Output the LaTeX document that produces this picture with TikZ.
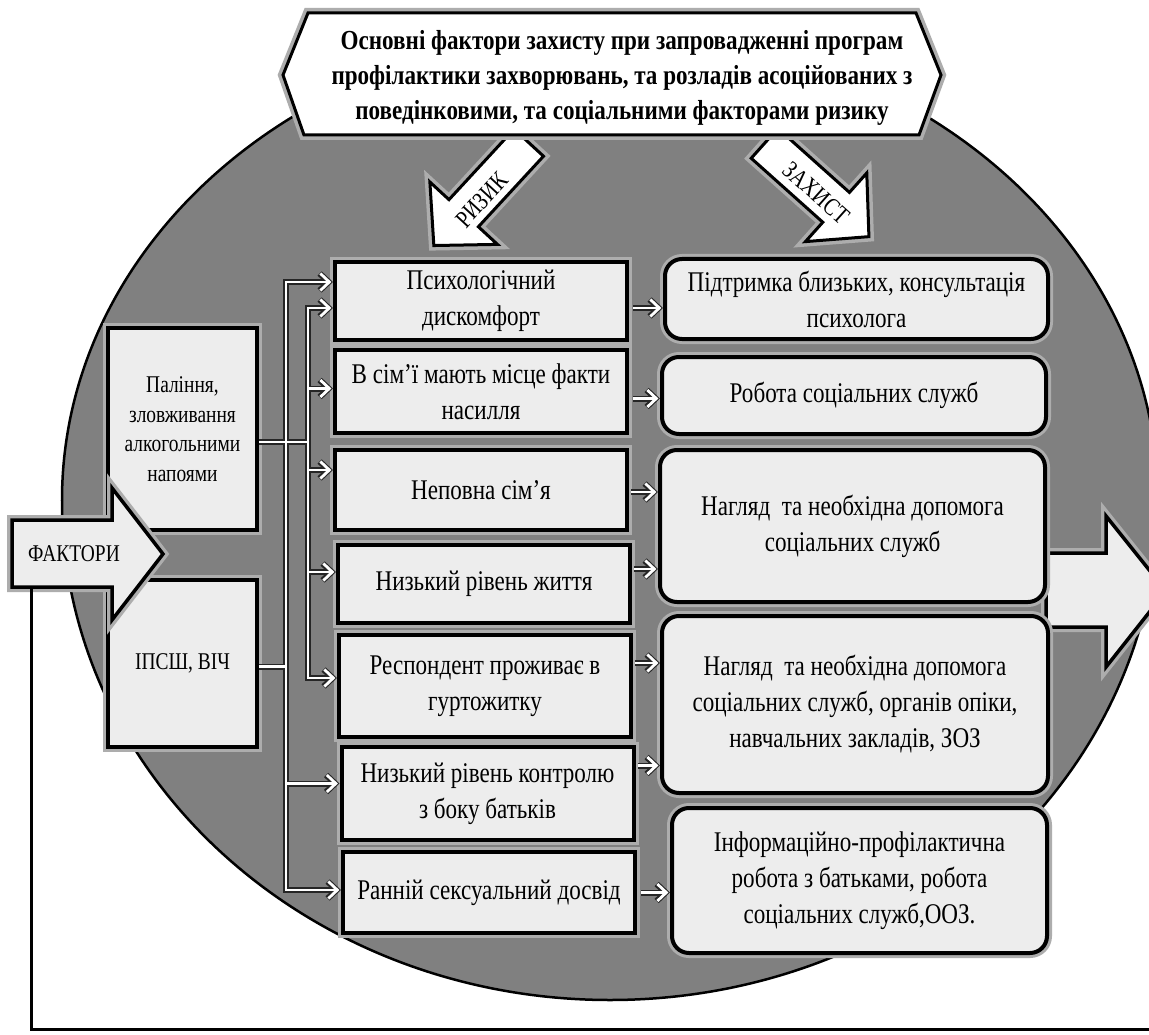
\documentclass[tikz,border=0pt]{standalone}
\usepackage{fontspec}
\setmainfont{Liberation Serif}[FakeStretch=0.81]
\newfontfamily\hdrfont{Liberation Serif}[FakeStretch=0.84]
\usetikzlibrary{arrows.meta,calc}
\definecolor{bggray}{gray}{0.5}
\definecolor{boxfill}{gray}{0.93}
\definecolor{halo}{gray}{0.68}
\newcommand\conpaths{%
  \draw[cn,tipB] (b1.west |- o1) -- (o1) -- (o2) -- (b7.west |- o2);
  \draw[cn,tipB] (b1.west |- i1) -- (i1) -- (i2) -- (b5.west |- i2);
  \draw[cn] (p1.east |- pl) -- (i1 |- pl);
  \draw[cn] (p2.east |- ps) -- (o1 |- ps);
  \draw[cn,tipE] (i1 |- t2) -- (t2);
  \draw[cn,tipE] (i1 |- t3) -- (t3);
  \draw[cn,tipE] (i1 |- t4) -- (t4);
  \draw[cn,tipE] (o1 |- t6) -- (t6);
  \draw[cn,tipE] (m1) -- (m1 -| r1.west);
  \draw[cn,tipE] (m2) -- (m2 -| r2.west);
  \draw[cn,tipE] (m3) -- (m3 -| r3.west);
  \draw[cn,tipE] (m4) -- (m4 -| r3.west);
  \draw[cn,tipE] (m5) -- (m5 -| r4.west);
  \draw[cn,tipE] (m6) -- (m6 -| r4.west);
  \draw[cn,tipE] (m7) -- (m7 -| r5.west);
}
\begin{document}
\begin{tikzpicture}[x=1pt,y=-1pt,line join=miter,
  halo/.style={preaction={draw=halo,line width=10pt}},
  sqbox/.style={draw=black,line width=4pt,fill=boxfill,halo,minimum width=292pt,
    inner sep=0pt,align=center,font=\fontsize{28.5}{36}\selectfont},
  rbox/.style={draw=black,line width=4pt,fill=boxfill,halo,rounded corners=17pt,
    inner sep=0pt,align=center,font=\fontsize{28.5}{36}\selectfont},
  lbox/.style={draw=black,line width=3.5pt,fill=boxfill,halo,minimum width=149pt,
    inner sep=0pt,align=center,font=\fontsize{24}{29.5}\selectfont},
  blockarrow/.style={draw=black,line width=3.5pt,fill=boxfill,halo},
  diagarrow/.style={draw=black,line width=3pt,fill=white,halo},
  arrowtext/.style={font=\fontsize{25}{28}\selectfont,inner sep=0pt},
  disc/.style={fill=bggray,draw=black,line width=2.5pt}]
\useasboundingbox (0,0) rectangle (1149,1035);
\clip (0,0) rectangle (1149,1035);
\fill[white] (0,0) rectangle (1149,1035);
% big gray disc (upper half a bit flatter)
\begin{scope}
  \clip (0,0) rectangle (1149,500);
  \path[disc] (610,500) ellipse [x radius=548pt, y radius=470pt];
\end{scope}
\begin{scope}
  \clip (0,500) rectangle (1149,1035);
  \path[disc] (610,500) ellipse [x radius=548pt, y radius=500pt];
\end{scope}
% big right arrow
\draw[blockarrow] (1046,553) -- (1106,553) -- (1106,516) -- (1166,591) -- (1106,667) -- (1106,627) -- (1046,627) -- cycle;
% diagonal arrows
\begin{scope}[shift={(522,150)},rotate=-132.7]
  \draw[diagarrow] (-10,-20) -- (86,-20) -- (86,-46) -- (130,0) -- (86,46) -- (86,20) -- (-10,20) -- cycle;
\end{scope}
\node[arrowtext,rotate=47.3] (riz) at (482,200) {РИЗИК};
\begin{scope}[shift={(772,150)},rotate=-41.8]
  \draw[diagarrow] (-10,-20) -- (86,-20) -- (86,-46) -- (130,0) -- (86,46) -- (86,20) -- (-10,20) -- cycle;
\end{scope}
\node[arrowtext,rotate=-41.8] (zah) at (816,193) {ЗАХИСТ};
% header
\draw[line width=3pt,fill=white,halo] (308,13) -- (916,13) -- (941,75) -- (919,135) -- (304,135) -- (283,75) -- cycle;
\node[align=center,inner sep=0pt,font=\hdrfont\fontsize{27.5}{35}\selectfont\bfseries] (hdr) at (622,78)
  {Основні фактори захисту при запровадженні програм\\профілактики захворювань, та розладів асоційованих з\\поведінковими, та соціальними факторами ризику};
% left boxes
\node[lbox,minimum height=202pt] (p1) at (182.5,429) {Паління,\\зловживання\\алкогольними\\напоями};
\node[lbox,minimum height=167pt] (p2) at (182.5,663.5) {ІПСШ, ВІЧ};
% middle boxes
\node[sqbox,minimum height=78pt] (b1) at (481,301) {Психологічний\\дискомфорт};
\node[sqbox,minimum height=83pt] (b2) at (481,391.5) {В сім’ї мають місце факти\\насилля};
\node[sqbox,minimum height=80pt] (b3) at (481,490) {Неповна сім’я};
\node[sqbox,minimum height=78pt] (b4) at (484,584) {Низький рівень життя};
\node[sqbox,minimum height=102pt] (b5) at (485,686) {Респондент проживає в\\гуртожитку};
\node[sqbox,minimum height=93pt] (b6) at (487.5,793.5) {Низький рівень контролю\\з боку батьків};
\node[sqbox,minimum height=81pt] (b7) at (489,892.5) {Ранній сексуальний досвід};
% right boxes
\node[rbox,minimum width=383pt,minimum height=80pt] (r1) at (856.5,299) {Підтримка близьких, консультація\\психолога};
\node[rbox,minimum width=384pt,minimum height=77pt] (r2) at (854,395.5) {Робота соціальних служб};
\node[rbox,minimum width=385pt,minimum height=152pt] (r3) at (852.5,526) {Нагляд\ \ та необхідна допомога\\соціальних служб};
\node[rbox,minimum width=386pt,minimum height=177pt] (r4) at (855,704.5) {Нагляд\ \ та необхідна допомога\\соціальних служб, органів опіки,\\навчальних закладів, ЗОЗ};
\node[rbox,minimum width=375pt,minimum height=145pt] (r5) at (859.5,880.5) {Інформаційно-профілактична\\робота з батьками, робота\\соціальних служб,ООЗ.};
% connector coordinates
\coordinate (o1) at (286,282);
\coordinate (o2) at (286,890);
\coordinate (i1) at (308,308);
\coordinate (i2) at (308,678);
\coordinate (pl) at ($(p1.east)+(0,13)$);
\coordinate (ps) at ($(p2.east)+(0,3)$);
\coordinate (t2) at ($(b2.west)+(0,-3)$);
\coordinate (t3) at ($(b3.west)+(0,-20)$);
\coordinate (t4) at ($(b4.west)+(0,-12)$);
\coordinate (t6) at ($(b6.west)+(0,-10)$);
\coordinate (m1) at ($(b1.east)+(4,7)$);
\coordinate (m2) at ($(b2.east)+(4,7)$);
\coordinate (m3) at ($(b3.east)+(2,2)$);
\coordinate (m4) at ($(b4.east)+(2,-15)$);
\coordinate (m5) at ($(b5.east)+(2,-23)$);
\coordinate (m6) at ($(b6.east)+(2,-28)$);
\coordinate (m7) at ($(b7.east)+(4,0)$);
% connectors: dark outline pass, then white core pass
\begin{scope}
  \tikzset{cn/.style={draw=black!85,line width=6pt},
    tipE/.style={-{Straight Barb[length=9pt,width=17pt]}},
    tipB/.style={{Straight Barb[length=9pt,width=17pt]}-{Straight Barb[length=9pt,width=17pt]}}}
  \conpaths
\end{scope}
\begin{scope}
  \tikzset{cn/.style={draw=white,line width=2.8pt},
    tipE/.style={-{Straight Barb[length=9pt,width=17pt]},shorten >=1.6pt},
    tipB/.style={{Straight Barb[length=9pt,width=17pt]}-{Straight Barb[length=9pt,width=17pt]},shorten >=1.6pt,shorten <=1.6pt}}
  \conpaths
\end{scope}
% ФАКТОРИ arrow
\draw[blockarrow] (12,520) -- (112,520) -- (112,488) -- (163,554) -- (112,620) -- (112,587) -- (12,587) -- cycle;
\node[arrowtext,font=\fontsize{24}{28}\selectfont] (fak) at (74,554) {ФАКТОРИ};
\coordinate (fb) at (31,587);
\coordinate (fc) at (31,1029);
\coordinate (fe) at (1149,1029);
\draw[line width=3pt] (fb) -- (fc) -- (fe);
\end{tikzpicture}
\end{document}
